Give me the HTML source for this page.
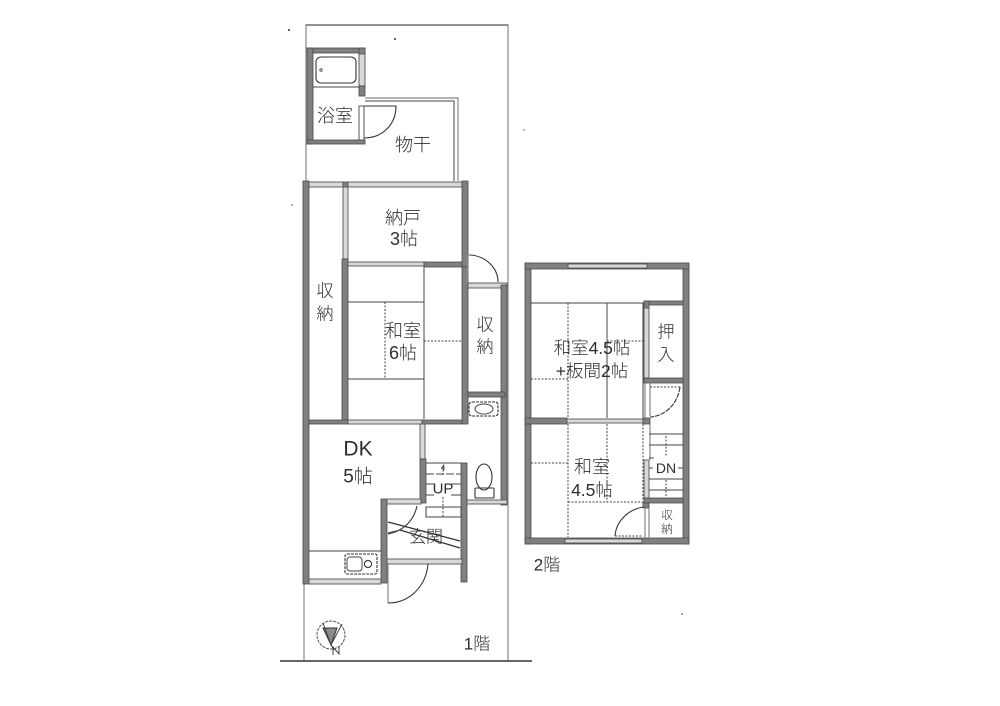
<!DOCTYPE html>
<html lang="ja">
<head>
<meta charset="utf-8">
<title>間取り図</title>
<style>
html,body{margin:0;padding:0;background:#fff;width:1000px;height:706px;overflow:hidden}
svg{display:block}
.w{fill:#808080;stroke:#4a4a4a;stroke-width:.8}
.wl{fill:#d8d8d8;stroke:#555;stroke-width:.9}
.o{fill:#fff;stroke:#555;stroke-width:1}
.l{fill:none;stroke:#444;stroke-width:1}
.t{fill:none;stroke:#333;stroke-width:1.2}
.g{fill:none;stroke:#888;stroke-width:1.2}
.d{fill:none;stroke:#444;stroke-width:1;stroke-dasharray:2 1.5}
.a{fill:none;stroke:#333;stroke-width:1.1}
text{font-family:"Liberation Sans","Noto Sans CJK JP",sans-serif;fill:#2e2e2e;text-anchor:middle;dominant-baseline:central;font-weight:300}
</style>
</head>
<body>
<svg width="1000" height="706" viewBox="0 0 1000 706" xmlns="http://www.w3.org/2000/svg">
<rect width="1000" height="706" fill="#fff"/>

<!-- site boundary -->
<path class="g" d="M306 181V25H508V661"/>
<path class="l" d="M306 25H508" stroke-width="1.2"/>
<path class="g" d="M304 584V661"/>
<path d="M280 661H532" stroke="#333" stroke-width="1.4" fill="none"/>

<!-- bathroom -->
<rect class="w" x="307" y="48" width="58" height="5"/>
<rect class="w" x="307" y="48" width="6" height="96"/>
<rect class="w" x="307" y="140" width="58" height="4"/>
<rect class="w" x="359" y="48" width="6" height="6"/>
<rect class="wl" x="359" y="54" width="6" height="32"/>
<rect class="w" x="359" y="86" width="6" height="10"/>
<rect class="o" x="359" y="106" width="5" height="34"/>
<path class="l" d="M313 87H359"/>
<rect class="a" x="316" y="57" width="40" height="26" rx="5"/>
<circle cx="321" cy="70" r="1.2" fill="none" stroke="#555"/>
<path class="a" d="M364 106H396C396 124 383 138 364 138"/>

<!-- drying area -->
<path class="g" d="M365 98H458V181"/>
<path class="l" d="M365 101H454V181"/>

<!-- 1F main walls -->
<rect class="w" x="303" y="181" width="6" height="403"/>
<rect class="wl" x="309" y="182" width="34" height="5"/>
<rect class="w" x="343" y="182" width="5" height="5"/>
<rect class="wl" x="348" y="182" width="114" height="5"/>
<rect class="w" x="462" y="181" width="6" height="86"/>
<rect class="wl" x="343" y="187" width="5" height="72"/>
<rect class="w" x="342" y="259" width="6" height="161"/>
<rect class="wl" x="348" y="262" width="76" height="4"/>
<rect class="w" x="424" y="262" width="38" height="5"/>
<rect class="w" x="462" y="267" width="6" height="157"/>
<rect class="w" x="309" y="420" width="39" height="4"/>
<rect class="wl" x="348" y="420" width="74" height="4"/>
<rect class="w" x="422" y="420" width="40" height="4"/>

<!-- tatami 6 -->
<path class="l" d="M424 267V419"/>
<path class="l" d="M348 302H424"/>
<path class="d" d="M385 302V379"/>
<path class="d" d="M424 341H462"/>
<path class="l" d="M348 379H424"/>

<!-- hall door + right wall -->
<path class="g" d="M470 255H468V283"/>
<path class="a" d="M470 255C486 256 498 268 498 282"/>
<rect class="wl" x="468" y="283" width="39" height="5"/>
<rect class="w" x="501" y="285" width="6" height="220"/>
<rect class="w" x="468" y="392" width="37" height="5"/>
<rect class="a" x="469" y="402" width="29" height="14" rx="3" stroke-dasharray="3 1"/>
<ellipse cx="484" cy="409" rx="9" ry="5" class="l"/>

<!-- stair + genkan -->
<rect class="wl" x="420" y="424" width="5" height="35"/>
<rect class="w" x="420" y="459" width="6" height="44"/>
<path class="l" d="M426 463H462" stroke-width="1.4"/>
<rect class="w" x="461" y="463" width="6" height="119"/>
<path class="l" d="M426 474H461" stroke-dasharray="8 2"/>
<path class="l" d="M426 484H434M451 484H461"/>
<path class="l" d="M426 495H434M451 495H461"/>
<rect class="l" x="426" y="507" width="35" height="10"/>
<path class="d" d="M443 466V476M443 497V517"/>
<rect class="w" x="381" y="499" width="6" height="84"/>
<rect class="wl" x="387" y="499" width="34" height="5"/>
<path class="a" d="M417 506C414 520 404 531 388 534"/>
<path class="t" d="M388 522L460 541"/>
<path class="t" d="M400 530L460 548"/>
<path class="l" d="M388 533L400 530"/>

<!-- genkan door -->
<rect class="wl" x="387" y="559" width="75" height="5"/>
<path class="g" d="M388 564V603"/>
<path class="a" d="M388 603C410 603 426 586 428 564"/>

<!-- kitchen -->
<path class="l" d="M309 551H381"/>
<rect class="a" x="345" y="554" width="32" height="20" rx="2" stroke-dasharray="3 1"/>
<rect class="l" x="347" y="557" width="15" height="14" rx="3"/>
<circle cx="368" cy="564" r="3.6" class="a"/>
<rect class="wl" x="309" y="579" width="72" height="5"/>

<!-- toilet -->
<ellipse class="a" cx="484" cy="477" rx="8" ry="13"/>
<rect class="a" x="475" y="488" width="19" height="10" rx="1"/>
<rect class="wl" x="467" y="500" width="40" height="4"/>

<!-- N mark -->
<circle cx="331" cy="635" r="14" fill="none" stroke="#555" stroke-width="1" stroke-dasharray="3 1"/>
<path d="M323 628L337 628L331 645Z" fill="#8a8a8a" stroke="#333"/>
<path class="l" d="M342 624L331 645L323 623"/>
<path class="l" d="M331 645L334 650"/>
<path class="l" d="M333 655V647L339 654V646"/>

<!-- 2F -->
<rect class="w" x="525" y="263" width="6" height="281"/>
<rect class="w" x="683" y="263" width="6" height="281"/>
<rect class="w" x="525" y="263" width="164" height="6"/>
<rect class="wl" x="568" y="264" width="79" height="4"/>
<rect class="w" x="525" y="538" width="164" height="6"/>
<rect class="wl" x="565" y="539" width="77" height="4"/>
<rect class="w" x="525" y="418" width="42" height="6"/>
<rect class="wl" x="567" y="419" width="76" height="4"/>
<rect class="w" x="643" y="418" width="7" height="6"/>
<path class="l" d="M531 303H644" stroke-width="1.1"/>
<rect class="w" x="644" y="301" width="39" height="4"/>
<rect class="w" x="644" y="301" width="5" height="7"/>
<rect class="wl" x="644" y="308" width="5" height="70"/>
<rect class="w" x="644" y="378" width="39" height="5"/>
<path class="g" d="M645 383V418M650 383V416"/>
<path class="a" d="M680 387C678 403 666 416 650 417" stroke-dasharray="5 1"/>
<path class="d" d="M650 387H680"/>
<path class="d" d="M568 303V418"/>
<path class="l" d="M607 303V418"/>
<path class="d" d="M607 341H645"/>
<path class="d" d="M531 379H568"/>
<path class="l" d="M643 303V418"/>

<path class="d" d="M568 424V537"/>
<path class="d" d="M531 463H568"/>
<path class="d" d="M607 424V502"/>
<path class="d" d="M568 502H645"/>
<path class="d" d="M643 424V500"/>
<path class="g" d="M650 424V460"/>
<rect class="wl" x="644" y="460" width="5" height="38"/>
<path class="l" d="M649 434H683M649 445H683M649 458H654M678 468H683M649 468H653M649 479H683M649 490H683"/>
<path class="d" d="M666 436V457M666 480V497"/>
<rect class="w" x="644" y="498" width="39" height="5"/>
<rect class="w" x="643" y="503" width="6" height="5"/>
<path class="g" d="M645 508V538M649 508V538"/>
<path class="a" d="M643 507C627 510 616 522 615 536"/>
<path class="d" d="M615 536H643"/>

<!-- labels -->
<text x="335" y="116" font-size="18">浴室</text>
<text x="413" y="145" font-size="18">物干</text>
<text x="403" y="218" font-size="18">納戸</text>
<text x="404" y="239" font-size="18">3帖</text>
<text x="325" y="291" font-size="17">収</text>
<text x="325" y="314" font-size="17">納</text>
<text x="403" y="331" font-size="18">和室</text>
<text x="403" y="353" font-size="18">6帖</text>
<text x="485" y="325" font-size="17">収</text>
<text x="485" y="347" font-size="17">納</text>
<text x="358" y="449" font-size="21">DK</text>
<text x="358" y="477" font-size="19">5帖</text>
<text x="443" y="489" font-size="15">UP</text>
<text x="426" y="537" font-size="17">玄関</text>
<text x="477" y="644" font-size="17">1階</text>
<text x="592" y="348" font-size="17.5">和室4.5帖</text>
<text x="592" y="371" font-size="17.5">+板間2帖</text>
<text x="666" y="332" font-size="17">押</text>
<text x="666" y="355" font-size="17">入</text>
<text x="592" y="467" font-size="18">和室</text>
<text x="592" y="490" font-size="17.5">4.5帖</text>
<text x="666" y="468" font-size="14">DN</text>
<text x="667" y="516" font-size="11.5">収</text>
<text x="667" y="530" font-size="11.5">納</text>
<text x="547" y="565" font-size="17">2階</text>
<text x="443" y="468" font-size="8">4</text>

<!-- specks -->
<circle cx="289" cy="30" r="1" fill="#333"/>
<circle cx="395" cy="39" r="1" fill="#333"/>
<circle cx="292" cy="205" r=".8" fill="#444"/>
<circle cx="524" cy="130" r=".7" fill="#444"/>
<circle cx="682" cy="614" r=".8" fill="#444"/>
</svg>
</body>
</html>
